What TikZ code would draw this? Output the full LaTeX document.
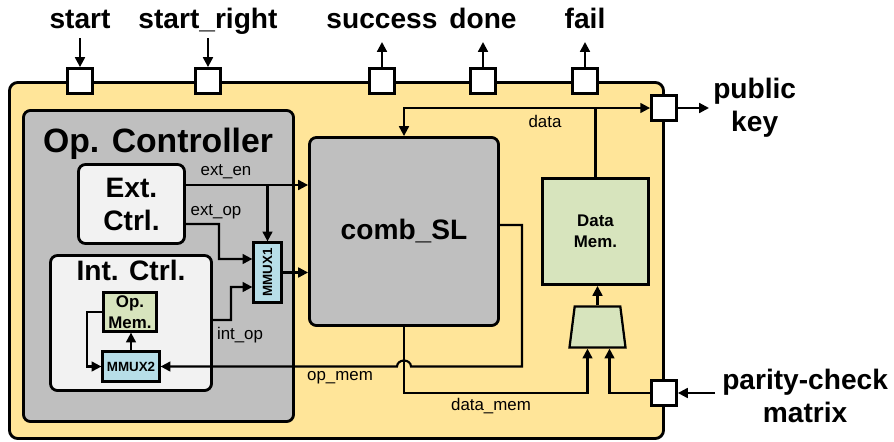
\documentclass[tikz,border=0pt]{standalone}
\usepackage{fontspec}
\usepackage{graphicx}
\setmainfont{Liberation Sans}
\usetikzlibrary{arrows.meta,positioning,shapes.geometric}
\definecolor{chipyellow}{HTML}{FFE599}
\definecolor{ctrlgray}{HTML}{BFBFBF}
\definecolor{ctrllight}{HTML}{F2F2F2}
\definecolor{memgreen}{HTML}{D7E4BD}
\definecolor{muxblue}{HTML}{B7DEE8}
\begin{document}
\begin{tikzpicture}[x=0.025cm, y=-0.025cm,
  >={Triangle[length=7pt,width=7pt]},
  chip/.style={draw, line width=2pt, rounded corners=6pt, fill=chipyellow},
  blk/.style={draw, line width=2pt, rounded corners=5pt, inner sep=0},
  mem/.style={draw, line width=1.6pt, fill=memgreen, inner sep=0, align=center,
    font=\fontsize{12}{15}\selectfont\bfseries},
  mux/.style={draw, line width=1.6pt, fill=muxblue, inner sep=0,
    font=\fontsize{9.5}{11}\selectfont\bfseries},
  port/.style={draw, line width=2pt, fill=white, minimum size=0.625cm, inner sep=0},
  pin/.style={inner sep=0, align=center, font=\fontsize{20}{23.5}\selectfont\bfseries},
  wlbl/.style={inner sep=0, font=\fontsize{12}{14}\selectfont},
  wire/.style={line width=1.5pt}]
\useasboundingbox (0,0) rectangle (894,441);

% Chip outline
\node[chip, minimum width=16.35cm, minimum height=8.9cm] (chip) at (336.5,260.5) {};

% Ports on the chip edge
\node[port] (start) at (80,81) {};
\node[port] (startr) at (208,81) {};
\node[port] (succ) at (382,81) {};
\node[port] (done) at (483,81) {};
\node[port] (fail) at (585,81) {};
\node[port] (pk) at (664,108) {};
\node[port] (pcm) at (664,393) {};

% Pin names
\node[pin, anchor=base] (startlbl) at (80,28) {start};
\node[pin, anchor=base] (startrlbl) at (208,28) {start\_right};
\node[pin, anchor=base] (succlbl) at (382,28) {success};
\node[pin, anchor=base] (donelbl) at (483,28) {done};
\node[pin, anchor=base] (faillbl) at (585,28) {fail};
\node[pin, anchor=west] (pklbl) at (713,108) {public\\key};
\node[pin, anchor=west] (pcmlbl) at (722,396) {parity-check\\matrix};

\draw[wire,->,shorten <=0.25cm] (startlbl.base) -- (start.north);
\draw[wire,->,shorten <=0.25cm] (startrlbl.base) -- (startr.north);
\draw[wire,->,shorten >=0.35cm] (succ.north) -- (succlbl.base);
\draw[wire,->,shorten >=0.35cm] (done.north) -- (donelbl.base);
\draw[wire,->,shorten >=0.35cm] (fail.north) -- (faillbl.base);
\draw[wire,->,shorten >=0.1cm] (pk.east) -- (pk.east -| pklbl.west);
\draw[wire,->,shorten <=0.175cm] (pcm.east -| pcmlbl.west) -- (pcm.east);

% Op. Controller
\node[blk, fill=ctrlgray, minimum width=6.75cm, minimum height=7.775cm] (opctrl) at (158.5,266) {};
\node[inner sep=0, anchor=base, font=\fontsize{24}{28}\selectfont\bfseries] (opctrllbl) at (158,152) {Op. Controller};
\node[blk, fill=ctrllight, minimum width=2.65cm, minimum height=1.975cm, align=center,
  font=\fontsize{20}{23.5}\selectfont\bfseries] (ext) at (131.5,204) {Ext.\\Ctrl.};
\node[blk, fill=ctrllight, minimum width=4.025cm, minimum height=3.375cm] (int) at (131,323) {};
\node[inner sep=0, anchor=base, font=\fontsize{20}{23.5}\selectfont\bfseries] (intlbl) at (131,280) {Int. Ctrl.};
\node[mem, minimum width=1.325cm, minimum height=0.975cm] (opmem) at (130,312) {Op.\\Mem.};
\node[mux, minimum width=1.425cm, minimum height=0.75cm] (mmux2) at (131,366.5) {MMUX2};
\node[mux, minimum width=0.7cm, minimum height=1.5cm] (mmux1) at (267.5,272.5) {\rotatebox{90}{MMUX1}};

% Datapath
\node[blk, fill=ctrlgray, minimum width=4.725cm, minimum height=4.7cm,
  font=\fontsize{20}{23.5}\selectfont\bfseries] (comb) at (404,231.5) {comb\_SL};
\node[mem, line width=2pt, minimum width=2.65cm, minimum height=2.65cm] (dmem) at (595.5,231.5) {Data\\Mem.};
\node[trapezium, draw, line width=1.6pt, fill=memgreen, trapezium stretches=true,
  trapezium left angle=83.5, trapezium right angle=83.5,
  minimum width=1.4cm, minimum height=1.025cm, inner sep=1pt] (dmux) at (597.5,327) {};

% Controller wires
\coordinate (en) at ([yshift=0.475cm]ext.east);
\draw[wire,->] (en) -- (en -| comb.west);
\draw[wire,->] (en -| mmux1.north) -- (mmux1.north);
\draw[wire,->] ([yshift=-0.5cm]ext.east) -| (219,259) -- ([yshift=0.3375cm]mmux1.west);
\draw[wire,->] ([yshift=0.075cm]int.east) -| (231,287) -- ([yshift=-0.3625cm]mmux1.west);
\draw[wire,->] (mmux1.east) -- (mmux1.east -| comb.west);
\draw[wire,->] (mmux2.north) -- (mmux2.north |- opmem.south);
\draw[wire,->] (opmem.west) -- ++(-15,0) |- (mmux2.west);
\node[wlbl] (enlbl) at (226,172) {ext\_en};
\node[wlbl] (oplbl) at (216,212) {ext\_op};
\node[wlbl] (intoplbl) at (240,335) {int\_op};

% op_mem back to MMUX2, hopping over data_mem
\coordinate (omout) at ([yshift=0.1625cm]comb.east);
\coordinate (hop) at (comb.south |- mmux2.east);
\draw[wire,->] (omout) -| (522,366.5) -- ([xshift=0.175cm]hop)
  arc[start angle=0, end angle=-180, x radius=7, y radius=6] -- (mmux2.east);
\node[wlbl] (omlbl) at (340,378) {op\_mem};

% data_mem into the data mux
\draw[wire,->] (comb.south) -- (comb.south |- pcm.west) -| ([xshift=-0.25cm]dmux.south);
\draw[wire,->] (pcm.west) -| ([xshift=0.3cm]dmux.south);
\draw[wire,->] (dmux.north) -- (dmux.north |- dmem.south);
\node[wlbl] (dmlbl) at (491,406) {data\_mem};

% data bus
\draw[wire,<->] (comb.north) |- (pk.west);
\draw[wire] (dmem.north) -- (dmem.north |- pk.west);
\node[wlbl] (datalbl) at (545,121) {data};

\end{tikzpicture}
\end{document}
